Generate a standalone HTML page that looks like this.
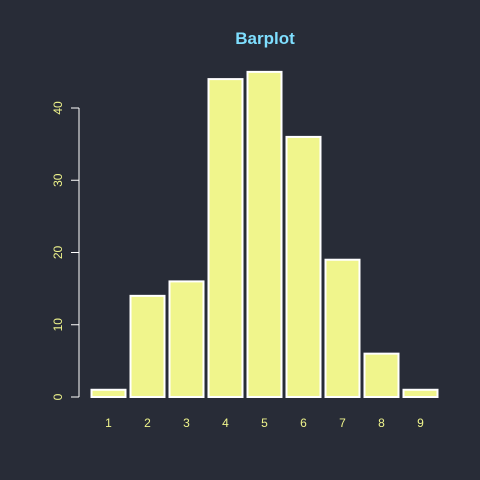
<!DOCTYPE html>
<html><head><meta charset="utf-8"><style>
html,body{margin:0;padding:0;background:#282c37;}
svg{display:block;font-family:"Liberation Sans",sans-serif;}
</style></head><body>
<svg id="chart" width="480" height="480">
<rect width="480" height="480" fill="#282c37"/>
<text x="265" y="44" text-anchor="middle" font-size="17" font-weight="bold" fill="#7fdfff">Barplot</text>
<g id="bars"></g>
<g id="yaxis"></g>
<g id="xlabels"></g>
</svg>
<script>
const categories = ["1","2","3","4","5","6","7","8","9"];
const values = [1,14,16,44,45,36,19,6,1];
const yTicks = [0,10,20,30,40];
const NS="http://www.w3.org/2000/svg";
const y0=397, pxPer=7.225;
function yScale(v){return y0-v*pxPer;}
function xCenter(i){return 108.5+i*39;}
const bw=34;
const gb=document.getElementById('bars');
values.forEach((v,i)=>{
  const r=document.createElementNS(NS,'rect');
  r.setAttribute('x',xCenter(i)-bw/2);
  r.setAttribute('y',yScale(v));
  r.setAttribute('width',bw);
  r.setAttribute('height',y0-yScale(v));
  r.setAttribute('fill','#f0f58c');
  r.setAttribute('stroke','#ffffff');
  r.setAttribute('stroke-width','2');
  
  
  gb.appendChild(r);
});
const gx=document.getElementById('xlabels');
categories.forEach((c,i)=>{
  const t=document.createElementNS(NS,'text');
  t.setAttribute('x',xCenter(i));
  t.setAttribute('y',427);
  t.setAttribute('text-anchor','middle');
  t.setAttribute('font-size','12');
  t.setAttribute('fill','#f0f58c');
  t.textContent=c;
  
  
  gx.appendChild(t);
});
const gy=document.getElementById('yaxis');
const ln=document.createElementNS(NS,'line');
ln.setAttribute('x1',79);ln.setAttribute('x2',79);
ln.setAttribute('y1',yScale(yTicks[0]));ln.setAttribute('y2',yScale(yTicks[yTicks.length-1]));
ln.setAttribute('stroke','#ffffff');


gy.appendChild(ln);
yTicks.forEach(v=>{
  const y=yScale(v);
  const tk=document.createElementNS(NS,'line');
  tk.setAttribute('x1',71);tk.setAttribute('x2',79);
  tk.setAttribute('y1',y);tk.setAttribute('y2',y);
  tk.setAttribute('stroke','#ffffff');
  
  
  gy.appendChild(tk);
  const t=document.createElementNS(NS,'text');
  t.setAttribute('transform','translate(62,'+y+') rotate(-90)');
  t.setAttribute('text-anchor','middle');
  t.setAttribute('font-size','12');
  t.setAttribute('fill','#f0f58c');
  t.textContent=v;
  
  
  gy.appendChild(t);
});
</script>
</body></html>
